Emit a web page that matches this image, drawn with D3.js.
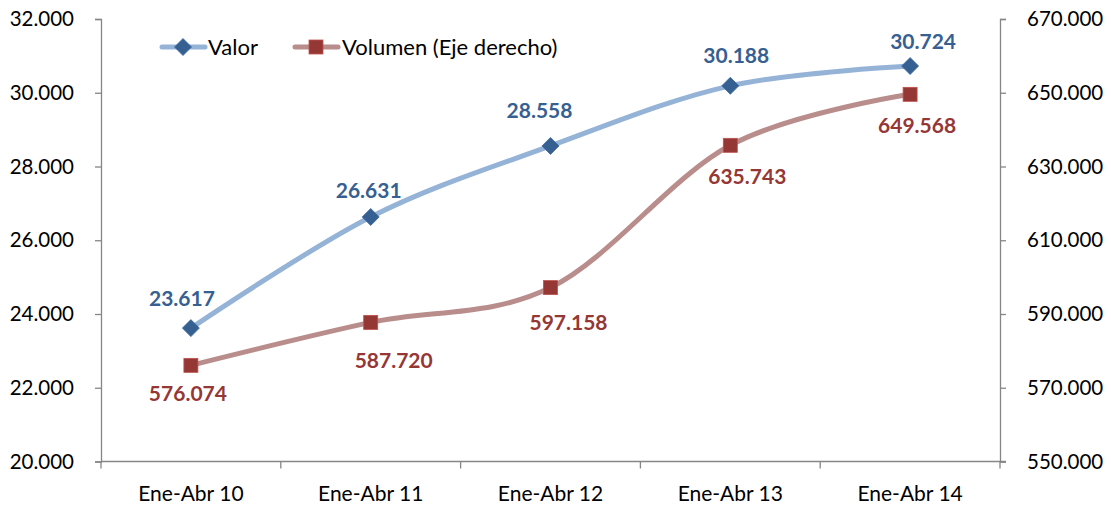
<!DOCTYPE html>
<html><head><meta charset="utf-8">
<script src="https://cdn.jsdelivr.net/npm/d3@7"></script>
<style>
html,body{margin:0;padding:0;background:#fff;}
text{font-family:Lato, "Open Sans", sans-serif;}
</style></head>
<body>
<svg id="chart" width="1111" height="506"></svg>
<script>
const categories = ["Ene-Abr 10","Ene-Abr 11","Ene-Abr 12","Ene-Abr 13","Ene-Abr 14"];
const valor = [23617, 26631, 28558, 30188, 30724];
const volumen = [576074, 587720, 597158, 635743, 649568];
const leftTicks = [20000, 22000, 24000, 26000, 28000, 30000, 32000];
const rightTicks = [550000, 570000, 590000, 610000, 630000, 650000, 670000];
const seriesNames = ["Valor", "Volumen (Eje derecho)"];

// layout (manual label nudges as in the original)
const blueNudge = [[-9,-30],[-2,-27],[-11,-35],[6,-30],[13,-25]];
const redNudge = [[-3,28],[23,38],[18,35],[17,31],[7,31]];

const fmt = v => d3.format(",.0f")(v).replace(/,/g, ".");
const svg = d3.select("#chart");
const L = 101, R = 1000, T = 19, B = 461.5;
const x = d3.scaleBand().domain(categories).range([L, R]);
const yL = d3.scaleLinear().domain([20000, 32000]).range([B, T]);
const yR = d3.scaleLinear().domain([550000, 670000]).range([B, T]);
const cx = c => x(c) + x.bandwidth() / 2;
const axisColor = "#868686";

const gL = svg.append("g").attr("transform", `translate(${L},0)`)
  .call(d3.axisLeft(yL).tickValues(leftTicks).tickFormat(fmt).tickSize(6).tickPadding(21));
const gR = svg.append("g").attr("transform", `translate(${R},0)`)
  .call(d3.axisRight(yR).tickValues(rightTicks).tickFormat(fmt).tickSize(6).tickPadding(21));
const gX = svg.append("g").attr("transform", `translate(0,${B})`)
  .call(d3.axisBottom(x).tickSize(0).tickPadding(25));
[gL, gR, gX].forEach(g => {
  g.select(".domain").attr("stroke", axisColor).attr("stroke-width", 1.3);
  g.selectAll(".tick line").attr("stroke", axisColor).attr("stroke-width", 1.3);
  g.selectAll("text").attr("fill", "#000").style("font-size", "20.5px").style("font-family", "Lato");
});
gX.selectAll("text").style("font-size", "21px");
gX.select(".domain").attr("d", `M${L},0H${R+6}`);
// category separators
svg.append("g").selectAll("line").data(d3.range(categories.length + 1)).join("line")
  .attr("x1", i => L + i * x.bandwidth()).attr("x2", i => L + i * x.bandwidth())
  .attr("y1", B).attr("y2", B + 7).attr("stroke", axisColor).attr("stroke-width", 1.3);

const curve = d3.curveCardinal.tension(0);
const blueLine = "#95B3D7", blueMark = "#376092";
const redLine = "#B98D8C", redMark = "#953735", redEdge = "#C0504D";

const lineL = d3.line().x((d, i) => cx(categories[i])).y(d => yL(d)).curve(curve);
const lineR = d3.line().x((d, i) => cx(categories[i])).y(d => yR(d)).curve(curve);

svg.append("path").attr("d", lineR(volumen)).attr("fill", "none").attr("stroke", redLine).attr("stroke-width", 5).attr("stroke-linecap", "round");
svg.append("path").attr("d", lineL(valor)).attr("fill", "none").attr("stroke", blueLine).attr("stroke-width", 5).attr("stroke-linecap", "round");

const diamond = (g, px, py) => g.append("path")
  .attr("d", `M${px},${py-8.5}L${px+8.5},${py}L${px},${py+8.5}L${px-8.5},${py}Z`)
  .attr("fill", blueMark).attr("stroke", "#3A67A0").attr("stroke-width", 0.8);
const square = (g, px, py) => g.append("rect")
  .attr("x", px - 7).attr("y", py - 7).attr("width", 14).attr("height", 14)
  .attr("fill", redMark).attr("stroke", redEdge).attr("stroke-width", 0.8);

const marks = svg.append("g");
volumen.forEach((v, i) => square(marks, cx(categories[i]), yR(v)));
valor.forEach((v, i) => diamond(marks, cx(categories[i]), yL(v)));

const labels = svg.append("g").style("font-weight", "bold").style("font-size", "21px").attr("text-anchor", "middle");
valor.forEach((v, i) => labels.append("text")
  .attr("x", cx(categories[i]) + blueNudge[i][0]).attr("y", yL(v) + blueNudge[i][1])
  .attr("dy", "0.36em").attr("fill", blueMark).text(fmt(v)));
volumen.forEach((v, i) => labels.append("text")
  .attr("x", cx(categories[i]) + redNudge[i][0]).attr("y", yR(v) + redNudge[i][1])
  .attr("dy", "0.36em").attr("fill", redMark).text(fmt(v)));

// legend
const leg = svg.append("g");
const ly = 47;
leg.append("line").attr("x1", 162).attr("x2", 205).attr("y1", ly).attr("y2", ly).attr("stroke", blueLine).attr("stroke-width", 5).attr("stroke-linecap", "round");
diamond(leg, 183, ly);
leg.append("text").attr("x", 208).attr("y", ly).attr("dy", "0.36em").style("font-size", "22px").text(seriesNames[0]);
leg.append("line").attr("x1", 295).attr("x2", 338).attr("y1", ly).attr("y2", ly).attr("stroke", redLine).attr("stroke-width", 5).attr("stroke-linecap", "round");
square(leg, 316, ly);
leg.append("text").attr("x", 342).attr("y", ly).attr("dy", "0.36em").style("font-size", "22px").text(seriesNames[1]);
</script>
</body></html>
